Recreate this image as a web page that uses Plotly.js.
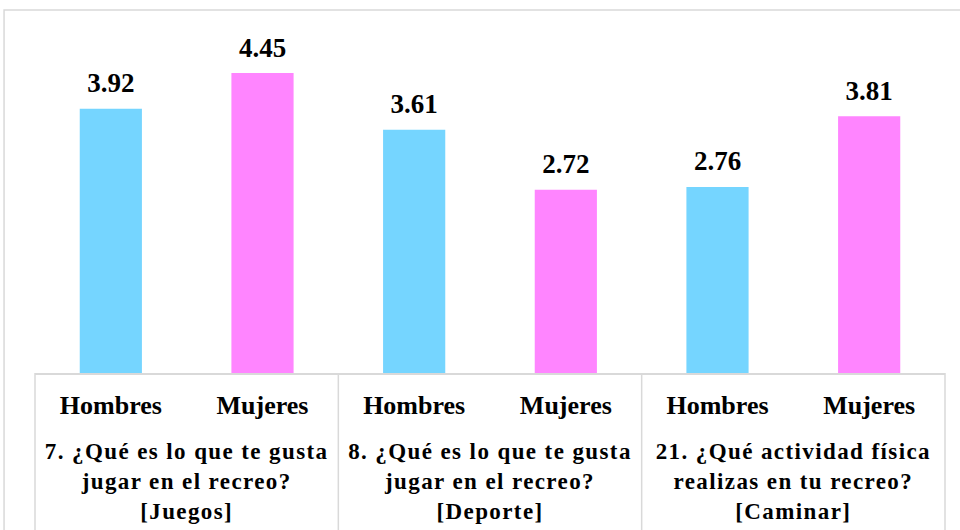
<!DOCTYPE html>
<html>
<head>
<meta charset="utf-8">
<script src="https://cdn.plot.ly/plotly-3.0.1.min.js"></script>
<style>html,body{margin:0;padding:0;background:#fff;}#chart{width:960px;height:530px;}</style>
</head>
<body>
<div id="chart"></div>
<script>
var questions = [
  ["7. ¿Qué es lo que te gusta", "jugar en el recreo?", "[Juegos]"],
  ["8. ¿Qué es lo que te gusta", "jugar en el recreo?", "[Deporte]"],
  ["21. ¿Qué actividad física", "realizas en tu recreo?", "[Caminar]"]
];
var sexes = ["Hombres", "Mujeres"];
var values = [3.92, 4.45, 3.61, 2.72, 2.76, 3.81];
var sexColors = {"Hombres": "#75D5FF", "Mujeres": "#FF85FF"};

var xIdx = [], xCat = [], colors = [], groupPos = [];
questions.forEach(function(q, qi){
  groupPos.push(qi * sexes.length + (sexes.length - 1) / 2);
  sexes.forEach(function(s, si){ xIdx.push(qi * sexes.length + si); xCat.push(s); colors.push(sexColors[s]); });
});
var groupText = questions.map(function(lines){
  return lines.map(function(l){ return "<span style='letter-spacing:1.4px'>" + l + "</span>"; }).join("<br>");
});

var fam = "'Liberation Serif', 'Times New Roman', serif";
var tickFont = {family: fam, size: 26, color: "#000", weight: "bold"};
var valueFont = {family: fam, size: 27, color: "#000", weight: "bold"};
var groupFont = {family: fam, size: 23, color: "#000", weight: "bold"};

var bars = {
  type: "bar",
  x: xIdx,
  y: values,
  marker: {color: colors, line: {width: 0}},
  width: 0.41,
  hoverinfo: "none",
  showlegend: false
};
var labels = {
  type: "scatter",
  mode: "markers+text",
  x: xIdx,
  y: values,
  text: values.map(function(v){ return v.toFixed(2); }),
  textposition: "top center",
  textfont: valueFont,
  marker: {size: 14, color: "rgba(0,0,0,0)"},
  hoverinfo: "none",
  showlegend: false,
  cliponaxis: false
};
var groupTrace = {
  type: "scatter", mode: "markers", x: groupPos, y: groupPos.map(function(){ return 0; }), xaxis: "x2",
  marker: {size: 1, color: "rgba(0,0,0,0)"}, hoverinfo: "none", showlegend: false
};

var lineColor = "#D9D9D9";
var shapes = [
  {type: "rect", xref: "paper", yref: "paper", x0: -0.034, x1: 1.2, y0: -1, y1: 1.077, line: {color: lineColor, width: 1.5}, layer: "below"}
];
[0, 1/3, 2/3, 1].forEach(function(px){
  shapes.push({type: "line", xref: "paper", yref: "paper", x0: px, x1: px, y0: 0, y1: -0.5, line: {color: lineColor, width: 1.5}});
});

var xr = [-0.5, xIdx.length - 0.5];
var layout = {
  width: 960, height: 530,
  margin: {l: 35, r: 15, t: 36, b: 157},
  paper_bgcolor: "#fff", plot_bgcolor: "#fff",
  font: tickFont,
  xaxis: {
    range: xr, tickmode: "array", tickvals: xIdx, ticktext: xCat,
    showline: true, linecolor: lineColor, linewidth: 1.5,
    ticks: "", tickfont: tickFont, ticklabelstandoff: 8,
    showgrid: false, zeroline: false, fixedrange: true
  },
  xaxis2: {
    range: xr, overlaying: "x", anchor: "y", side: "bottom",
    tickmode: "array", tickvals: groupPos, ticktext: groupText,
    ticks: "", tickfont: groupFont, ticklabelstandoff: 62,
    showline: false, showgrid: false, zeroline: false
  },
  yaxis: {range: [0, 5], visible: false, showgrid: false, zeroline: false},
  shapes: shapes
};

Plotly.newPlot("chart", [bars, labels, groupTrace], layout, {displayModeBar: false, staticPlot: true});
</script>
</body>
</html>
